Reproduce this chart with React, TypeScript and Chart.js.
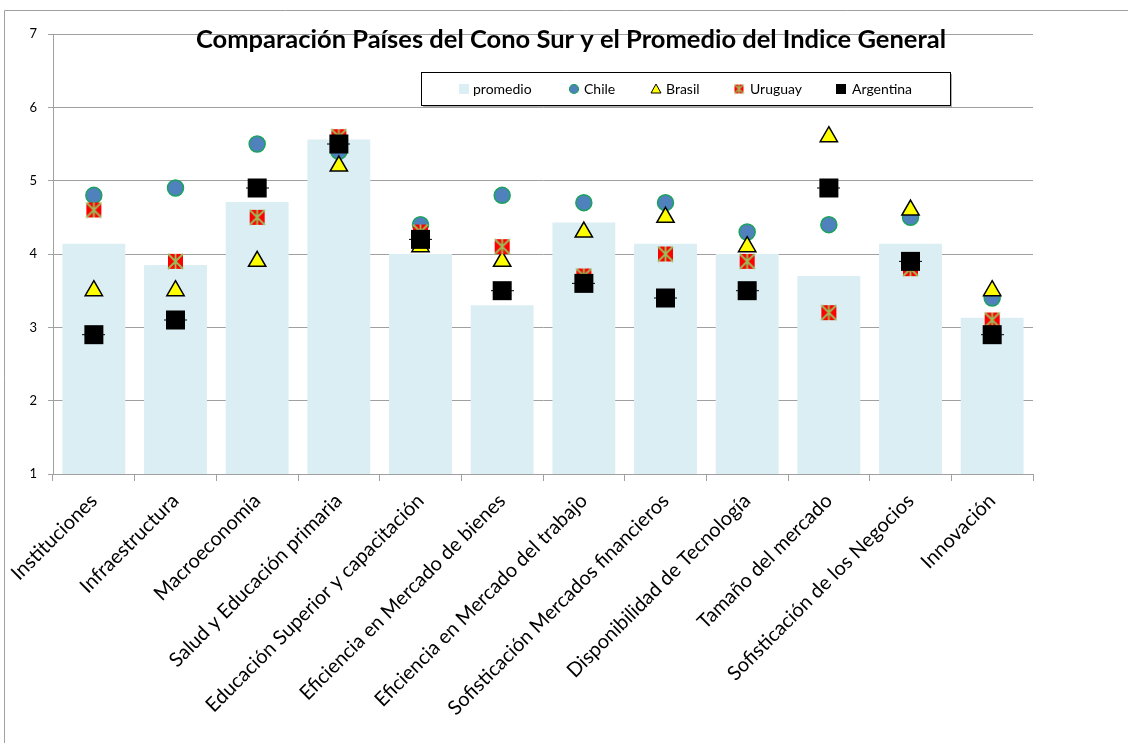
import React, { useEffect, useRef } from 'react';
import { Chart, registerables } from 'chart.js';
Chart.register(...registerables);

const TITLE = 'Comparación Países del Cono Sur y el Promedio del Indice General';

const categories = [
  'Instituciones',
  'Infraestructura',
  'Macroeconomía',
  'Salud y Educación primaria',
  'Educación Superior y capacitación',
  'Eficiencia en Mercado de bienes',
  'Eficiencia en Mercado del trabajo',
  'Sofisticación Mercados financieros',
  'Disponibilidad de Tecnología',
  'Tamaño del mercado',
  'Sofisticación de los Negocios',
  'Innovación',
];

const promedio = [4.14, 3.85, 4.71, 5.56, 4.0, 3.3, 4.43, 4.14, 4.0, 3.7, 4.14, 3.13];
const chile = [4.8, 4.9, 5.5, 5.4, 4.4, 4.8, 4.7, 4.7, 4.3, 4.4, 4.5, 3.4];
const brasil = [3.5, 3.5, 3.9, 5.2, 4.1, 3.9, 4.3, 4.5, 4.1, 5.6, 4.6, 3.5];
const uruguay = [4.6, 3.9, 4.5, 5.6, 4.3, 4.1, 3.7, 4.0, 3.9, 3.2, 3.8, 3.1];
const argentina = [2.9, 3.1, 4.9, 5.5, 4.2, 3.5, 3.6, 3.4, 3.5, 4.9, 3.9, 2.9];

const yMin = 1;
const yMax = 7;
const yStep = 1;

const legendLabels = ['promedio', 'Chile', 'Brasil', 'Uruguay', 'Argentina'];

const FONT = 'Lato, "Open Sans", sans-serif';
const BAR_COLOR = '#dbeef4';
const CHILE_FILL = '#4f81bd';
const CHILE_BORDER = '#1aa35a';
const BRASIL_FILL = '#ffff00';
const URU_FILL = '#ff0000';
const URU_CROSS = '#9bbb59';
const GRID = '#a0a0a0';

function makeUruguayMarker(size: number) {
  const pad = 1;
  const c = document.createElement('canvas');
  c.width = size + pad * 2;
  c.height = size + pad * 2;
  const ctx = c.getContext('2d')!;
  ctx.fillStyle = URU_FILL;
  ctx.fillRect(pad, pad, size, size);
  ctx.strokeStyle = URU_CROSS;
  ctx.lineWidth = Math.max(1.5, size / 8);
  ctx.beginPath();
  ctx.moveTo(pad, pad);
  ctx.lineTo(pad + size, pad + size);
  ctx.moveTo(pad + size, pad);
  ctx.lineTo(pad, pad + size);
  ctx.moveTo(pad + size / 2, pad);
  ctx.lineTo(pad + size / 2, pad + size);
  ctx.stroke();
  return c;
}

function makeArgentinaMarker(size: number) {
  const pad = 2;
  const c = document.createElement('canvas');
  c.width = size + pad * 2;
  c.height = size + pad * 2;
  const ctx = c.getContext('2d')!;
  ctx.fillStyle = '#000000';
  ctx.fillRect(pad, pad, size, size);
  ctx.strokeStyle = '#000000';
  ctx.lineWidth = 1;
  ctx.beginPath();
  ctx.moveTo(0, pad + size / 2);
  ctx.lineTo(size + pad * 2, pad + size / 2);
  ctx.stroke();
  return c;
}

const framePlugin = {
  id: 'frameAndDecor',
  beforeDraw(chart: any) {
    const ctx = chart.ctx;
    ctx.save();
    ctx.fillStyle = '#ffffff';
    ctx.fillRect(0, 0, chart.width, chart.height);
    ctx.strokeStyle = GRID;
    ctx.lineWidth = 1;
    ctx.beginPath();
    ctx.moveTo(4.5, chart.height + 2);
    ctx.lineTo(4.5, 10.5);
    ctx.lineTo(chart.width + 2, 10.5);
    ctx.stroke();
    ctx.restore();
  },
  afterDraw(chart: any) {
    const ctx = chart.ctx;
    const area = chart.chartArea;
    ctx.save();
    // Title
    ctx.fillStyle = '#000000';
    ctx.font = `bold 25.5px ${FONT}`;
    ctx.textAlign = 'center';
    ctx.textBaseline = 'alphabetic';
    ctx.fillText(TITLE, area.left + 518, area.top + 14);

    // Legend box
    const bx = area.left + 368;
    const by = area.top + 38;
    const bw = 529;
    const bh = 33;
    ctx.fillStyle = '#b0b0b0';
    ctx.fillRect(bx + 2, by + 2, bw, bh);
    ctx.fillStyle = '#ffffff';
    ctx.fillRect(bx, by, bw, bh);
    ctx.strokeStyle = '#000000';
    ctx.lineWidth = 1;
    ctx.strokeRect(bx + 0.5, by + 0.5, bw, bh);

    const cy = by + 17;
    const markerX = [43, 153, 235, 318, 420];
    const textX = [52, 163, 245, 329, 431];
    ctx.font = `14px ${FONT}`;
    ctx.textAlign = 'left';
    ctx.textBaseline = 'middle';
    legendLabels.forEach((lab, i) => {
      const mx = bx + markerX[i];
      if (i === 0) {
        ctx.fillStyle = BAR_COLOR;
        ctx.fillRect(mx - 5, cy - 5, 10, 10);
      } else if (i === 1) {
        ctx.beginPath();
        ctx.arc(mx, cy, 4.5, 0, Math.PI * 2);
        ctx.fillStyle = CHILE_FILL;
        ctx.fill();
        ctx.strokeStyle = CHILE_BORDER;
        ctx.lineWidth = 1.2;
        ctx.stroke();
      } else if (i === 2) {
        ctx.beginPath();
        ctx.moveTo(mx, cy - 5);
        ctx.lineTo(mx + 5, cy + 4);
        ctx.lineTo(mx - 5, cy + 4);
        ctx.closePath();
        ctx.fillStyle = BRASIL_FILL;
        ctx.fill();
        ctx.strokeStyle = '#000';
        ctx.lineWidth = 1;
        ctx.stroke();
      } else if (i === 3) {
        ctx.drawImage(makeUruguayMarker(9), mx - 5.5, cy - 5.5);
      } else {
        ctx.fillStyle = '#000';
        ctx.fillRect(mx - 5, cy - 5, 10, 10);
      }
      ctx.fillStyle = '#000000';
      ctx.fillText(lab, bx + textX[i], cy);
    });
    ctx.restore();
  },
};

export default function App() {
  const ref = useRef<HTMLCanvasElement | null>(null);
  useEffect(() => {
    if (!ref.current) return;
    const uruImg = makeUruguayMarker(15);
    const argImg = makeArgentinaMarker(19);
    const chart = new Chart(ref.current, {
      type: 'bar',
      data: {
        labels: categories,
        datasets: [
          {
            type: 'bar',
            label: 'promedio',
            data: promedio,
            backgroundColor: BAR_COLOR,
            barPercentage: 0.77,
            categoryPercentage: 1,
            order: 4,
          } as any,
          {
            type: 'line',
            label: 'Chile',
            data: chile,
            showLine: false,
            pointStyle: 'circle',
            pointRadius: 8,
            pointBackgroundColor: CHILE_FILL,
            pointBorderColor: CHILE_BORDER,
            pointBorderWidth: 1.5,
            order: 3,
          },
          {
            type: 'line',
            label: 'Brasil',
            data: brasil,
            showLine: false,
            pointStyle: 'triangle',
            pointRadius: 10,
            pointBackgroundColor: BRASIL_FILL,
            pointBorderColor: '#000000',
            pointBorderWidth: 1.5,
            order: 2,
          },
          {
            type: 'line',
            label: 'Uruguay',
            data: uruguay,
            showLine: false,
            pointStyle: uruImg,
            pointRadius: 9,
            order: 1,
          },
          {
            type: 'line',
            label: 'Argentina',
            data: argentina,
            showLine: false,
            pointStyle: argImg,
            pointRadius: 11,
            order: 0,
          },
        ],
      },
      options: {
        responsive: false,
        animation: false,
        layout: { padding: { left: 0, top: 34, right: 95, bottom: 0 } },
        plugins: {
          legend: { display: false },
          title: { display: false },
          tooltip: { enabled: false },
        },
        scales: {
          x: {
            offset: true,
            grid: {
              offset: true,
              drawOnChartArea: false,
              drawTicks: true,
              tickLength: 7,
              color: GRID,
            },
            border: { color: GRID },
            ticks: {
              minRotation: 45,
              maxRotation: 45,
              autoSkip: false,
              color: '#000000',
              padding: 8,
              font: { family: FONT, size: 20 },
            },
            afterFit: (s: any) => {
              s.height = 743 - 474;
            },
          },
          y: {
            min: yMin,
            max: yMax,
            ticks: {
              stepSize: yStep,
              color: '#000000',
              padding: 11,
              font: { family: FONT, size: 13 },
            },
            grid: { color: GRID, tickLength: 5 },
            border: { color: GRID },
            afterFit: (s: any) => {
              s.width = 53;
            },
          },
        },
      },
      plugins: [framePlugin],
    });
    return () => chart.destroy();
  }, []);
  return (
    <div style={{ position: 'absolute', left: 0, top: 0, width: 1128, height: 743 }}>
      <canvas ref={ref} width={1128} height={743} />
    </div>
  );
}
